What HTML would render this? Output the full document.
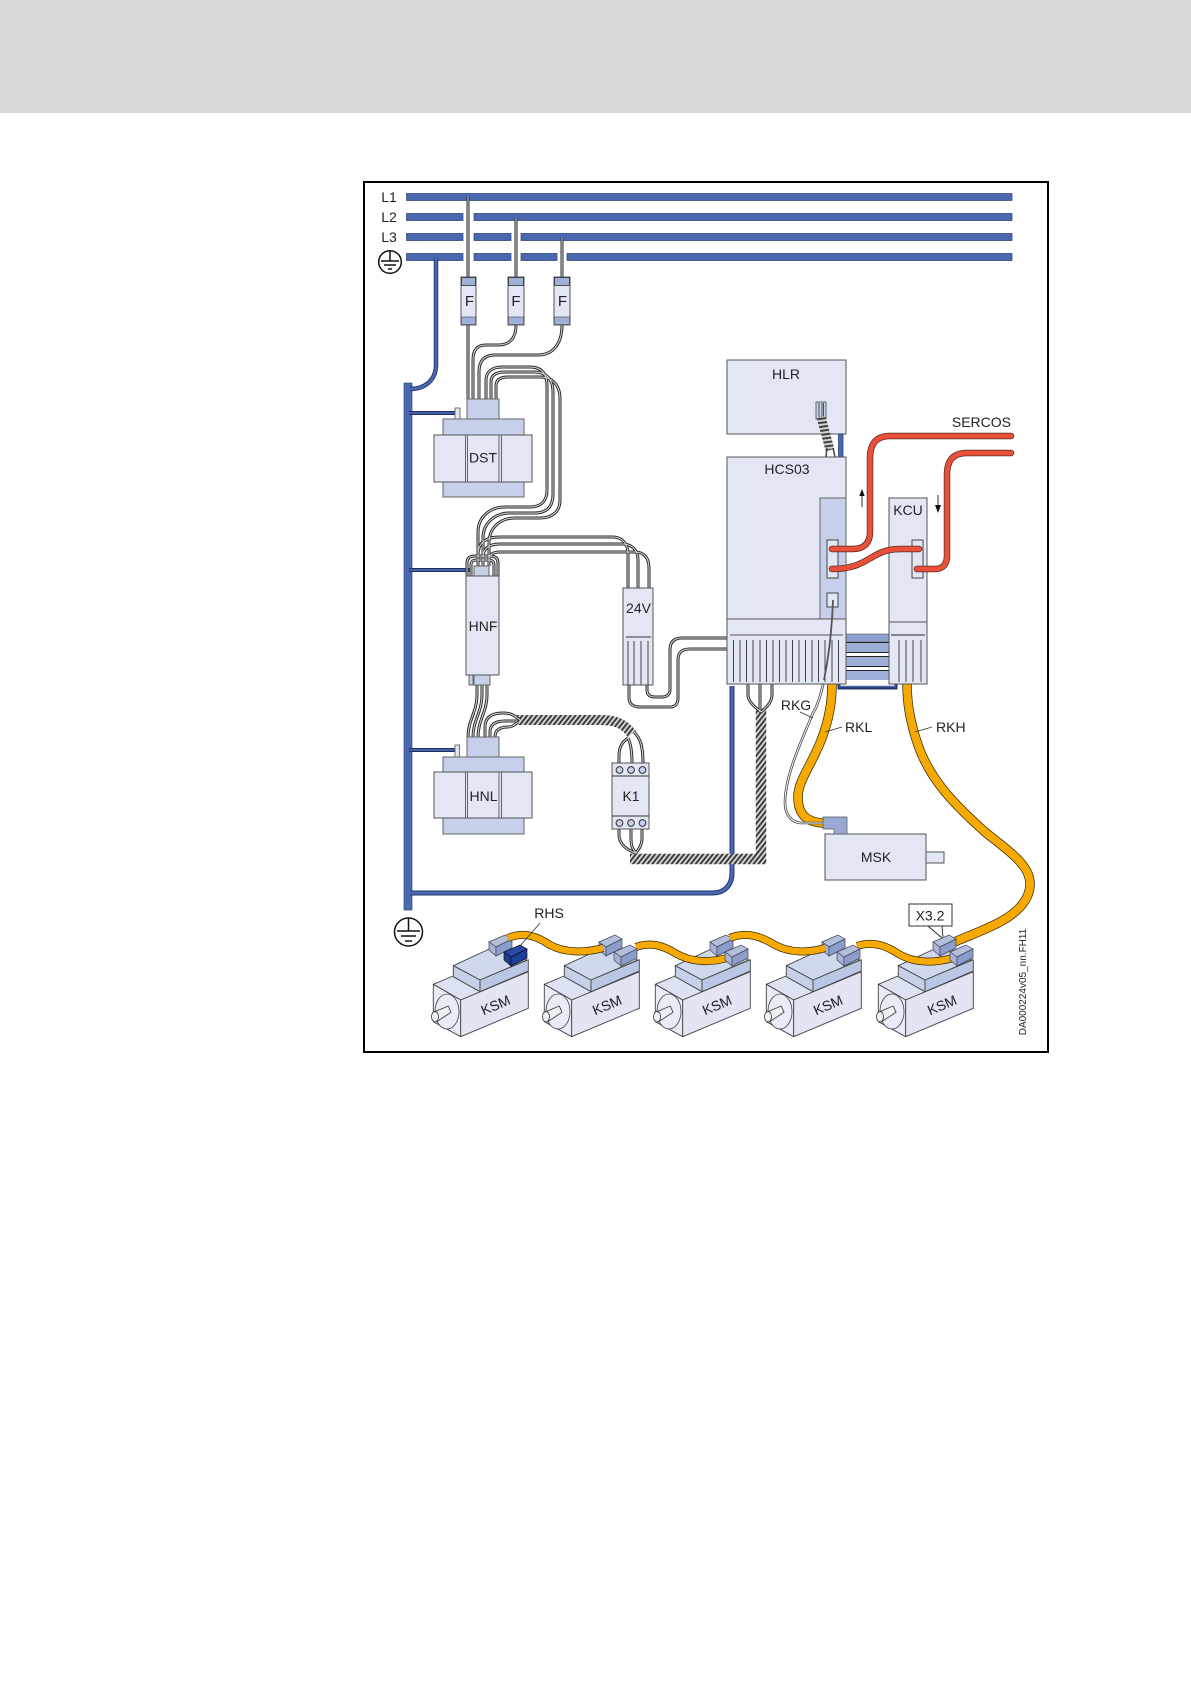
<!DOCTYPE html>
<html><head><meta charset="utf-8"><style>
html,body{margin:0;padding:0;background:#fff}
svg{display:block}
text{font-family:"Liberation Sans",sans-serif;fill:#222;font-size:14px}
.m{text-anchor:middle;dominant-baseline:central}
.b{fill:#e3e7f5;stroke:#555;stroke-width:1}
.c{fill:#c6d0ea;stroke:#666;stroke-width:1}
.bar{fill:#4a68b0;stroke:#2b3f73;stroke-width:.7}
</style></head><body>
<svg width="1191" height="1684" viewBox="0 0 1191 1684" xmlns="http://www.w3.org/2000/svg">
<defs>
<pattern id="hatch" width="3.8" height="3.8" patternUnits="userSpaceOnUse" patternTransform="rotate(38)">
<rect width="3.8" height="3.8" fill="#d4d4d4"/><rect width="1.9" height="3.8" fill="#3a3a3a"/>
</pattern>
<pattern id="hatch2" width="4" height="4" patternUnits="userSpaceOnUse" patternTransform="rotate(-8)">
<rect width="4" height="4" fill="#d0d0d0"/><rect width="4" height="1.9" fill="#3a3a3a"/>
</pattern>
<g id="w" fill="none">
<path d="M468 197V399"/>
<path d="M516 218V325C516 338 510 345 498 345H486C477 345 473 350 473 360V399"/>
<path d="M562 238V325C562 345 552 355 538 355H495C484 355 479 361 479 372V399"/>
<path d="M486 399V380C486 372 492 367 502 367H530C542 367 547 374 547 386V490C547 502 540 507 530 507H505C490 507 478 517 478 532V566"/>
<path d="M491 399V382C491 375 496 372 505 372H534C547 372 553 380 553 392V495C553 507 546 513 535 513H510C495 513 483 523 483 538V566"/>
<path d="M496 399V386C496 380 500 377 508 377H540C553 377 560 386 560 398V500C560 512 552 518 540 518H515C500 518 489 528 489 543V566"/>
<path d="M478 566V555C478 544 484 537 500 537H612C622 537 628 543 628 555V588"/>
<path d="M483 566V558C483 549 488 544 500 544H622C632 544 638 550 638 560V588"/>
<path d="M489 566V560C489 555 492 552 500 552H635C644 552 649 558 649 568V588"/>
<path d="M467 576V563C467 558 470 556 475 556H490C495 556 498 558 498 563V576"/>
<path d="M471 576V565C471 561 473 560 477 560H488C492 560 494 561 494 565V576"/>
<path d="M629 685V698C629 704 633 707 640 707H670C675 707 678 704 678 698V660C678 652 682 649 690 649H730"/>
<path d="M647 685V690C647 695 650 697 655 697H662C667 697 670 694 670 690V650C670 642 674 638 682 638H730"/>
<path d="M477 685V695C477 712 468 720 468 737"/>
<path d="M482 685V695C482 712 473 720 473 737"/>
<path d="M487 685V695C487 712 478 720 478 737"/>
<path d="M485 737V727C485 717 492 713 503 713C512 713 515 716 520 720"/>
<path d="M490 737V732C490 724 496 721 505 721H517"/>
<path d="M495 737C495 730 500 727 508 727C512 727 515 725 518 722"/>
<path d="M628 738C622 742 619 748 619 755V763M628 738C630 742 632 748 632 763M634 732C640 738 643 745 643 763"/>
<path d="M619 829V835C619 845 628 850 635 853M631 829V840C631 846 633 850 636 853M642 829V838C642 846 638 850 636 853"/>
<path d="M748 684V695C748 702 756 708 761 712M760 684V712M772 684V695C772 702 766 708 761 712"/>
</g>
<g id="cube">
<polygon points="0,7 16,0 23,4 7,12" fill="#b4bfdc" stroke="#445" stroke-width=".7"/>
<polygon points="0,7 7,12 7,21 0,15" fill="#a8b4d4" stroke="#445" stroke-width=".7"/>
<polygon points="7,12 23,4 23,13 7,21" fill="#8c9dcb" stroke="#445" stroke-width=".7"/>
</g>
<g id="motor" stroke="#444" stroke-width=".9" stroke-linejoin="round">
<polygon points="433.3,984.3 453,976 500,960 528.3,971.700 460.700,1000" fill="#dde2f2"/>
<polygon points="433.3,984.3 460.700,1000 460.700,1036.700 433.3,1021.700" fill="#e9ecf7"/>
<polygon points="460.700,1000 528.3,971.700 528.3,1008.3 460.700,1036.700" fill="#e1e5f4"/>
<ellipse cx="447" cy="1011.500" rx="12" ry="17.500" fill="#e9ecf7" stroke-width=".8"/>
<polygon points="433.3,1012.3 448.3,1006 451,1012.3 436.700,1021.700" fill="#eef0f8"/>
<ellipse cx="435" cy="1016.700" rx="3.5" ry="5.2" fill="#eef0f8"/>
<polygon points="453.3,965.700 498,945 526.700,960 480,980" fill="#d0d8ee"/>
<polygon points="453.3,965.700 480,980 480,991.700 453.3,976.700" fill="#c6d1e9"/>
<polygon points="480,980 528.3,959.700 528.3,971 480,991.700" fill="#bac7e4"/>
</g>
</defs>

<rect x="0" y="0" width="1191" height="113" fill="#d9d9d9"/>
<rect x="364" y="182" width="684" height="870" fill="#fff" stroke="#000" stroke-width="2"/>

<!-- bus bars -->
<rect class="bar" x="406.5" y="193.5" width="605.5" height="7"/>
<path class="bar" d="M406.5 213.5H463V220.5H406.5ZM474 213.5H1012V220.5H474Z"/>
<path class="bar" d="M406.5 233.5H463V240.5H406.5ZM474 233.5H511V240.5H474ZM521 233.5H1012V240.5H521Z"/>
<path class="bar" d="M406.5 253.5H463V260.5H406.5ZM474 253.5H511V260.5H474ZM521 253.5H557V260.5H521ZM567 253.5H1012V260.5H567Z"/>
<text class="m" x="389" y="197">L1</text>
<text class="m" x="389" y="217">L2</text>
<text class="m" x="389" y="237">L3</text>
<g fill="none" stroke="#111" stroke-width="1.5">
<circle cx="390" cy="262" r="11.3"/><path d="M390 250V261M381 261H399M384 265H396M388 269H392"/>
<circle cx="408.5" cy="932" r="14"/><path d="M408.5 918V931M397 931H420M401 936H416M405 941H412"/>
</g>

<!-- earth -->
<rect x="404" y="383" width="8" height="527" fill="#4a68b0" stroke="#2f4a90" stroke-width=".7"/>
<g fill="none">
<path d="M436 258V365C436 380 425 389 410 389" stroke="#23366e" stroke-width="4.5"/>
<path d="M436 258V365C436 380 425 389 410 389" stroke="#4a68b0" stroke-width="2.6"/>
<path d="M409 413H457M409 570H470M409 750H457" stroke="#1f2f60" stroke-width="4"/>
<path d="M409 413H457M409 570H470M409 750H457" stroke="#4a68b0" stroke-width="1.8"/>
<path d="M410 893H712C725 893 732 885 732 873V686" stroke="#23366e" stroke-width="5"/>
<path d="M410 893H712C725 893 732 885 732 873V686" stroke="#4a68b0" stroke-width="3"/>
</g>
<rect x="455" y="408" width="5" height="11" fill="#e3e7f5" stroke="#555" stroke-width=".8"/>
<rect x="455" y="745" width="4.5" height="12" fill="#e3e7f5" stroke="#555" stroke-width=".8"/>

<!-- coils -->
<g fill="none">
<path d="M517 720H600C618 720 625 725 632 734" stroke="url(#hatch)" stroke-width="10"/>
<path d="M630 859H761V708" stroke="url(#hatch)" stroke-width="10.500"/>
</g>
<use href="#w" stroke="#2a2a2a" stroke-width="3"/>
<use href="#w" stroke="#d8dbe2" stroke-width="1"/>

<!-- fuses -->
<g>
<rect x="461" y="277" width="15" height="48" class="b"/><rect x="461.5" y="277.5" width="14" height="8" fill="#9fb0d8" stroke="#333" stroke-width=".8"/><rect x="461.5" y="317" width="14" height="7.5" fill="#9fb0d8" stroke="#666" stroke-width=".8"/>
<rect x="508" y="277" width="16" height="48" class="b"/><rect x="508.5" y="277.5" width="15" height="8" fill="#9fb0d8" stroke="#333" stroke-width=".8"/><rect x="508.5" y="317" width="15" height="7.5" fill="#9fb0d8" stroke="#666" stroke-width=".8"/>
<rect x="554" y="277" width="16" height="48" class="b"/><rect x="554.5" y="277.5" width="15" height="8" fill="#9fb0d8" stroke="#333" stroke-width=".8"/><rect x="554.5" y="317" width="15" height="7.5" fill="#9fb0d8" stroke="#666" stroke-width=".8"/>
<text class="m" x="469.5" y="301.5" style="font-size:15px">F</text><text class="m" x="516" y="301.5" style="font-size:15px">F</text><text class="m" x="562.500" y="301.5" style="font-size:15px">F</text>
</g>

<!-- DST -->
<rect x="467" y="399" width="32" height="20" class="c"/>
<rect x="443" y="419" width="81" height="78" class="c"/>
<rect x="434" y="435" width="98" height="47" class="b"/>
<path d="M465.5 435V482M467.5 435V482M499 435V482M501.5 435V482" stroke="#666" fill="none"/>
<text class="m" x="483" y="457.5">DST</text>

<!-- HNF -->
<rect x="474" y="566" width="15" height="10" class="c"/>
<rect x="474" y="675" width="16" height="10" class="c"/>
<rect x="469" y="675" width="4" height="10" class="c"/>
<rect x="466" y="576" width="33" height="99" class="b"/>
<text class="m" x="483" y="626">HNF</text>

<!-- HNL -->
<rect x="467" y="737" width="32" height="20" class="c"/>
<rect x="443" y="757" width="81" height="77" class="c"/>
<rect x="434" y="772" width="98" height="46" class="b"/>
<path d="M465.5 772V818M467.5 772V818M499 772V818M501.5 772V818" stroke="#666" fill="none"/>
<text class="m" x="483.5" y="796">HNL</text>

<!-- 24V -->
<rect x="623" y="588" width="30" height="97" class="b"/>
<path d="M626 637H651" stroke="#333"/>
<path d="M628 641V685M634 641V685M641 641V685M648 641V685" stroke="#333" stroke-width=".9"/>
<text class="m" x="638.5" y="608">24V</text>

<!-- K1 -->
<rect x="612" y="763" width="37" height="66" class="b"/>
<path d="M612 776H649M612 816H649" stroke="#333"/>
<g fill="#c6d0ea" stroke="#333"><circle cx="619.5" cy="770" r="3.4"/><circle cx="631" cy="770" r="3.4"/><circle cx="642.5" cy="770" r="3.4"/><circle cx="619.5" cy="823" r="3.4"/><circle cx="631" cy="823" r="3.4"/><circle cx="642.5" cy="823" r="3.4"/></g>
<text class="m" x="631" y="796">K1</text>

<!-- stripes between drives -->
<rect x="846" y="634" width="43" height="46" fill="#fff"/>
<rect x="846" y="634" width="43" height="8" fill="#8fa2cf" stroke="#555" stroke-width=".6"/>
<rect x="846" y="643" width="43" height="9" fill="#9fb0d8"/>
<path d="M846 642.5H889M846 652.5H889" stroke="#222" stroke-width="1"/>
<rect x="846" y="657" width="43" height="9" fill="#9fb0d8"/>
<path d="M846 656.5H889M846 666.5H889" stroke="#222" stroke-width="1"/>
<rect x="846" y="671" width="43" height="9" fill="#9fb0d8"/>
<path d="M846 670.5H889" stroke="#222" stroke-width="1"/>
<path d="M839 684V688H896V684" fill="none" stroke="#23366e" stroke-width="3"/>
<path d="M839 686.5H896" stroke="#4a68b0" stroke-width="1.5"/>

<!-- orange cables -->
<g fill="none" stroke-linecap="butt">
<path d="M832 684C832 705 828 722 822 738C812 765 798 780 798 797C798 815 807 822 823 823" stroke="#3a2c05" stroke-width="9.5"/>
<path d="M832 684C832 705 828 722 822 738C812 765 798 780 798 797C798 815 807 822 823 823" stroke="#f6a900" stroke-width="8"/>
<path d="M907 684C907 705 911 725 918 745C930 780 955 805 985 832C1010 852 1030 865 1030 884C1030 900 1018 912 1000 922C985 930 968 936 952 943" stroke="#3a2c05" stroke-width="9.5"/>
<path d="M907 684C907 705 911 725 918 745C930 780 955 805 985 832C1010 852 1030 865 1030 884C1030 900 1018 912 1000 922C985 930 968 936 952 943" stroke="#f6a900" stroke-width="8"/>
</g>
<path d="M824 680C821 695 818 705 813 713C802 740 785 775 785 803C785 815 792 822 800 823H823" fill="none" stroke="#444" stroke-width="2.6"/>
<path d="M824 680C821 695 818 705 813 713C802 740 785 775 785 803C785 815 792 822 800 823H823" fill="none" stroke="#fff" stroke-width="1"/>

<!-- HLR -->
<rect x="727" y="360" width="119" height="74" class="b"/>
<rect x="816" y="402" width="10" height="17" class="c" stroke="#333"/>
<path d="M819 403V415Q819 418 820.5 418T822 415V403M823.500 403V415Q823.500 418 825 418" stroke="#444" fill="none" stroke-width=".9"/>
<text class="m" x="786" y="374">HLR</text>
<path d="M821 417L830 450" stroke="url(#hatch2)" stroke-width="9" fill="none"/>
<path d="M827 448L826 457M833 448L835 457" stroke="#444" stroke-width="1.5" fill="none"/>
<rect x="838.5" y="434" width="4.5" height="23" fill="#4a68b0" stroke="#23366e" stroke-width=".7"/>

<!-- HCS03 -->
<rect x="727" y="457" width="119" height="227" class="b"/>
<rect x="820" y="498" width="26" height="121" fill="#c6d0ea" stroke="#666"/>
<rect x="827" y="540" width="11" height="38" fill="#e3e7f5" stroke="#444"/>
<rect x="827" y="593" width="11" height="14" fill="#e3e7f5" stroke="#444"/>
<path d="M727 619H846" stroke="#555"/>
<path d="M730 635H843" stroke="#555" stroke-width="1"/>
<path d="M733.500 640V682M740 640V682M746.500 640V682M753 640V682M760 640V682M766.500 640V682M773 640V682M779.500 640V682M786 640V682M792.500 640V682M799 640V682M805.500 640V682M812 640V682M818.500 640V682M825 640V682M832 640V682M838.500 640V682" stroke="#333" stroke-width=".9"/>
<text class="m" x="787" y="469">HCS03</text>

<!-- KCU -->
<rect x="889" y="498" width="38" height="186" class="b"/>
<rect x="912" y="540" width="11" height="38" fill="#e3e7f5" stroke="#444"/>
<path d="M889 622H927" stroke="#555"/>
<path d="M891 635H925" stroke="#222"/>
<path d="M899 640V682M906 640V682M913 640V682M921 640V682" stroke="#333" stroke-width=".9"/>
<text class="m" x="908" y="510">KCU</text>

<!-- RKG over HCS -->
<path d="M833 600C832 630 829 655 824 680" fill="none" stroke="#555" stroke-width="1.8"/>

<!-- red cables -->
<g fill="none" stroke-linecap="round">
<path d="M832 549H853C864 549 870 543 870 532V458C870 444 876 436 890 436H1011" stroke="#5a2a20" stroke-width="6.5"/>
<path d="M832 549H853C864 549 870 543 870 532V458C870 444 876 436 890 436H1011" stroke="#e8503a" stroke-width="5"/>
<path d="M832 569C870 569 870 549 900 549H919" stroke="#5a2a20" stroke-width="6.5"/>
<path d="M832 569C870 569 870 549 900 549H919" stroke="#e8503a" stroke-width="5"/>
<path d="M917 569H935C943 569 947 564 947 556V475C947 460 953 453 967 453H1011" stroke="#5a2a20" stroke-width="6.5"/>
<path d="M917 569H935C943 569 947 564 947 556V475C947 460 953 453 967 453H1011" stroke="#e8503a" stroke-width="5"/>
</g>
<path d="M862 507V494" stroke="#333"/><polygon points="862,489 859.300,496 864.700,496" fill="#111"/>
<path d="M938 495V508" stroke="#333"/><polygon points="938,513 935,505 941,505" fill="#111"/>
<text x="1011" y="422" text-anchor="end" dominant-baseline="central">SERCOS</text>

<!-- MSK -->
<rect x="926" y="852" width="18" height="11" class="b"/>
<rect x="825" y="834" width="101" height="46" class="b"/>
<polygon points="823,817 847,817 847,834 834,834 834,829 823,829" fill="#99a8d4" stroke="#555" stroke-width=".7"/>
<text class="m" x="876" y="857">MSK</text>

<!-- motors -->
<use href="#motor"/>
<use href="#motor" x="111"/>
<use href="#motor" x="222"/>
<use href="#motor" x="333"/>
<use href="#motor" x="445"/>

<!-- back cubes -->
<use href="#cube" x="489" y="935"/>
<use href="#cube" x="599" y="935"/>
<use href="#cube" x="710" y="935"/>
<use href="#cube" x="822" y="935"/>
<use href="#cube" x="933" y="935"/>

<!-- orange chain -->
<g fill="none">
<path d="M508 938C525 931 538 937 550 945C565 953 585 953 603 948" stroke="#3a2c05" stroke-width="8"/>
<path d="M508 938C525 931 538 937 550 945C565 953 585 953 603 948" stroke="#f6a900" stroke-width="6.500"/>
<path d="M636 947C650 942 662 945 675 953C692 963 712 963 730 957" stroke="#3a2c05" stroke-width="8"/>
<path d="M636 947C650 942 662 945 675 953C692 963 712 963 730 957" stroke="#f6a900" stroke-width="6.500"/>
<path d="M730 938C747 931 762 937 775 945C790 953 808 953 825 948" stroke="#3a2c05" stroke-width="8"/>
<path d="M730 938C747 931 762 937 775 945C790 953 808 953 825 948" stroke="#f6a900" stroke-width="6.500"/>
<path d="M857 946C872 941 885 945 897 953C915 964 935 963 953 958" stroke="#3a2c05" stroke-width="8"/>
<path d="M857 946C872 941 885 945 897 953C915 964 935 963 953 958" stroke="#f6a900" stroke-width="6.500"/>
</g>

<!-- front cubes -->
<g>
<polygon points="504,952 520,945 527,949 511,957" fill="#2a4aa5" stroke="#112" stroke-width=".7"/>
<polygon points="504,952 511,957 511,966 504,960" fill="#1c3a90" stroke="#112" stroke-width=".7"/>
<polygon points="511,957 527,949 527,958 511,966" fill="#1e3f9a" stroke="#112" stroke-width=".7"/>
</g>
<use href="#cube" x="614" y="945"/>
<use href="#cube" x="725" y="945"/>
<use href="#cube" x="837" y="945"/>
<use href="#cube" x="950" y="945"/>

<g>
<text class="m" transform="translate(495.500 1005) rotate(-23)">KSM</text>
<text class="m" transform="translate(607 1005) rotate(-23)">KSM</text>
<text class="m" transform="translate(717 1005) rotate(-23)">KSM</text>
<text class="m" transform="translate(828 1005) rotate(-23)">KSM</text>
<text class="m" transform="translate(942 1005) rotate(-23)">KSM</text>
</g>

<!-- labels -->
<text class="m" x="549" y="913">RHS</text>
<path d="M540 923L520 946" stroke="#333" stroke-width=".8" fill="none"/>
<rect x="909" y="904" width="43" height="22" fill="#fff" stroke="#333"/>
<text class="m" x="930" y="915.500">X3.2</text>
<path d="M928 926L942 938M942 926L943 937" stroke="#222" fill="none" stroke-width=".9"/>
<text class="m" x="796" y="705">RKG</text>
<path d="M800 712L813 718" stroke="#333" stroke-width=".9"/>
<text x="845" y="727" dominant-baseline="central">RKL</text>
<path d="M842 727L825 732" stroke="#333" stroke-width=".9"/>
<text x="936" y="727" dominant-baseline="central">RKH</text>
<path d="M932 727L915 732" stroke="#333" stroke-width=".9"/>
<text transform="translate(1023.500 982) rotate(-90)" class="m" style="font-size:10px">DA000224v05_nn.FH11</text>
</svg>
</body></html>
